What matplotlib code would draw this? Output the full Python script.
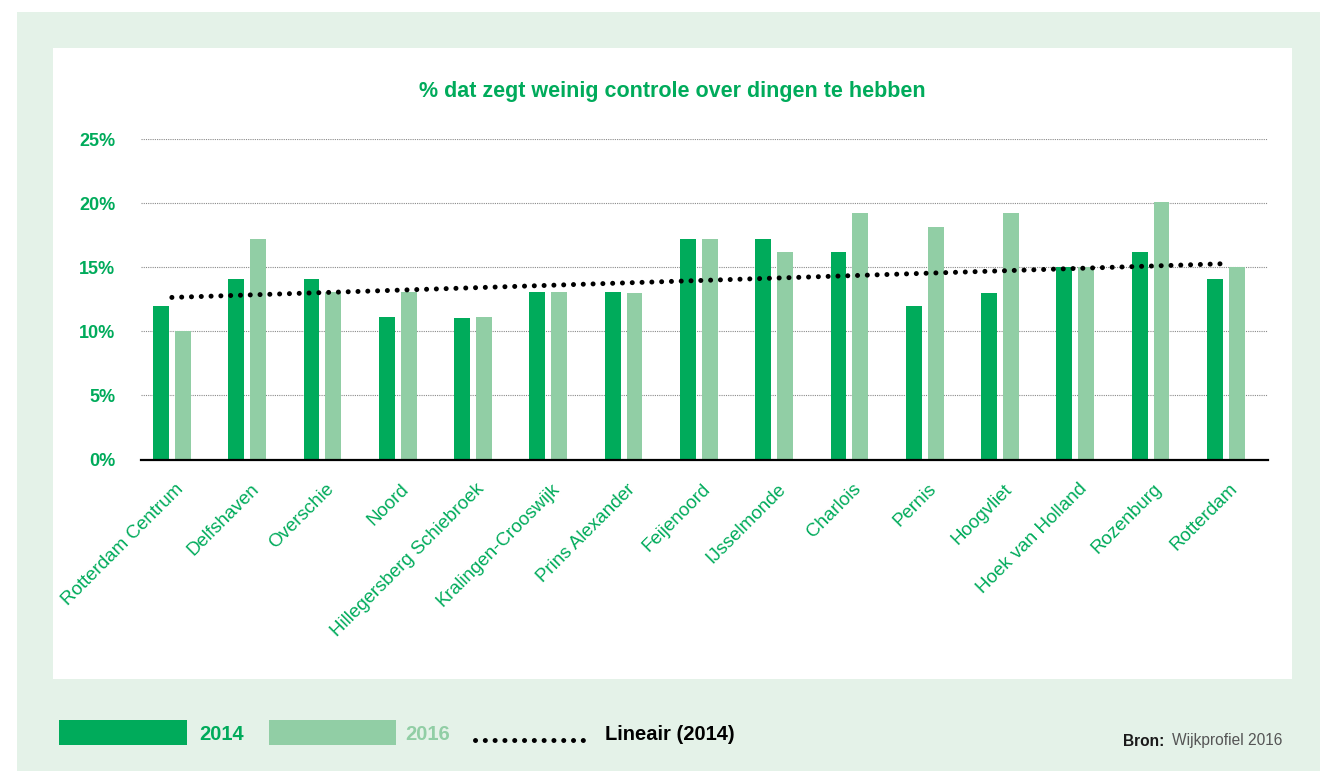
import matplotlib
matplotlib.use('agg')
import matplotlib.pyplot as plt
from matplotlib.patches import Rectangle
from matplotlib.lines import Line2D
import matplotlib.transforms as mtransforms
import numpy as np

plt.rcParams['font.family'] = ['Liberation Sans', 'DejaVu Sans']

wijken = ['Rotterdam Centrum', 'Delfshaven', 'Overschie', 'Noord',
          'Hillegersberg Schiebroek', 'Kralingen-Crooswijk', 'Prins Alexander',
          'Feijenoord', 'IJsselmonde', 'Charlois', 'Pernis', 'Hoogvliet',
          'Hoek van Holland', 'Rozenburg', 'Rotterdam']
pct_2014 = [12.0, 14.1, 14.1, 11.1, 11.0, 13.1, 13.1, 17.2, 17.2, 16.2, 12.0, 13.0, 15.0, 16.2, 14.1]
pct_2016 = [10.0, 17.2, 13.1, 13.1, 11.1, 13.1, 13.0, 17.2, 16.2, 19.2, 18.1, 19.2, 15.0, 20.1, 15.0]
yticks = [0, 5, 10, 15, 20, 25]

dark = '#00ab5b'
light = '#91cea5'
bg = '#e4f2e8'

W, H = 1320, 771
fig = plt.figure(figsize=(W / 100, H / 100), dpi=100)
fig.patch.set_facecolor('white')

def fx(px):
    return px / W

def fy(py):
    return 1 - py / H

# background panels
fig.patches.append(Rectangle((fx(17), 0), fx(W - 17), 1 - 12 / H, transform=fig.transFigure,
                             facecolor=bg, edgecolor='none', zorder=-10))
fig.patches.append(Rectangle((fx(53), fy(679)), fx(1292 - 53), (679 - 48) / H,
                             transform=fig.transFigure, facecolor='white', edgecolor='none', zorder=-9))

ax = fig.add_axes([fx(141), fy(459.5), fx(1268 - 141), (459.5 - 139) / H])
ax.set_facecolor('none')

x = np.arange(len(wijken))
bw = 0.21
ax.bar(x - 0.145, pct_2014, width=bw, color=dark, zorder=3)
ax.bar(x + 0.145, pct_2016, width=bw, color=light, zorder=3)

# linear trend of 2014
k, b = np.polyfit(x, pct_2014, 1)
ax.plot(x, k * x + b, color='black', lw=3.6, linestyle=(0, (0.01, 1.95)),
        dash_capstyle='round', zorder=4)

ax.set_xlim(-0.41, 14.56)
ax.set_ylim(0, 25)
ax.set_yticks(yticks)
ax.set_yticklabels(['%d%%' % v for v in yticks])
for v in yticks[1:]:
    ax.axhline(v, color='#8a8a8a', lw=0.8, linestyle=(0, (1, 1)), zorder=1)

for s in ['top', 'right', 'left']:
    ax.spines[s].set_visible(False)
ax.spines['bottom'].set_color('black')
ax.spines['bottom'].set_linewidth(1.6)
ax.spines['bottom'].set_zorder(5)

ax.tick_params(axis='y', length=0, pad=18.5, labelcolor=dark, labelsize=13)
for lab in ax.get_yticklabels():
    lab.set_fontweight('bold')

ax.set_xticks(x)
ax.set_xticklabels(wijken, rotation=45, ha='right', va='center', rotation_mode='anchor')
ax.tick_params(axis='x', length=0, pad=19.5, labelcolor=dark, labelsize=13.5)
offset = mtransforms.ScaledTranslation(9 / 100, 0, fig.dpi_scale_trans)
for lab in ax.get_xticklabels():
    lab.set_transform(lab.get_transform() + offset)

fig.text(fx(672), fy(91), '% dat zegt weinig controle over dingen te hebben',
         ha='center', va='center', color=dark, fontsize=15.5, fontweight='bold')

# legend
fig.patches.append(Rectangle((fx(59), fy(745)), fx(128), 25 / H, transform=fig.transFigure,
                             facecolor=dark, edgecolor='none'))
fig.text(fx(199), fy(735), '2014', color=dark, fontsize=14.5, fontweight='bold', va='center')
fig.patches.append(Rectangle((fx(269), fy(745)), fx(127), 25 / H, transform=fig.transFigure,
                             facecolor=light, edgecolor='none'))
fig.text(fx(405), fy(735), '2016', color=light, fontsize=14.5, fontweight='bold', va='center')
fig.lines.append(Line2D([fx(475), fx(590)], [fy(740), fy(740)], transform=fig.transFigure,
                        color='black', lw=3.6, linestyle=(0, (0.01, 1.95)), dash_capstyle='round'))
fig.text(fx(605), fy(735), 'Lineair (2014)', color='black', fontsize=14.5, fontweight='bold',
         va='center')

fig.text(fx(1123), fy(741), 'Bron:', color='#1a1a1a', fontsize=11.2, fontweight='bold', va='center')
fig.text(fx(1172), fy(741), 'Wijkprofiel 2016', color='#555555', fontsize=11.2, va='center')

fig.savefig('out.png', dpi=100, facecolor=fig.get_facecolor())
